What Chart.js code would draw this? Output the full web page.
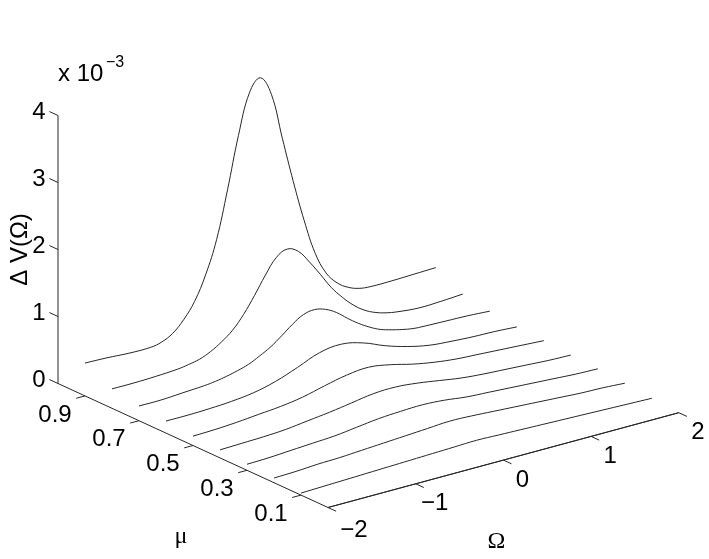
<!DOCTYPE html>
<html><head><meta charset="utf-8">
<style>html,body{margin:0;padding:0;background:#fff}canvas{display:block}</style>
<script src="https://cdn.jsdelivr.net/npm/chart.js@4"></script></head>
<body><canvas id="c" width="709" height="559"></canvas>
<script>
const omega=[-2,-1.75,-1.5,-1.25,-1,-0.75,-0.5,-0.25,0,0.25,0.5,0.75,1,1.25,1.5,1.75,2];
const omegaFine=[-2,-1.75,-1.5,-1.25,-1.125,-1,-0.875,-0.75,-0.625,-0.5,-0.375,-0.25,-0.125,0,0.125,0.25,0.375,0.5,0.625,0.75,0.875,1,1.125,1.25,1.5,1.75,2];
const muLevels=[0.9,0.8,0.7,0.6,0.5,0.4,0.3,0.2,0.1,0];
const v09=[.49,.48,.46,.46,.495,.58,.74,.97,1.32,1.80,2.50,3.27,3.86,4.04,3.75,3.05,2.36,1.73,1.20,.86,.67,.56,.50,.48,.48,.49,.50];
const v08=[.29,.29,.30,.32,.345,.38,.45,.55,.68,.87,1.11,1.37,1.59,1.67,1.59,1.39,1.16,.92,.73,.57,.45,.37,.32,.29,.26,.27,.29];
const v07=[.22,.22,.24,.26,.28,.31,.35,.40,.48,.57,.69,.82,.92,.95,.91,.82,.69,.57,.47,.39,.34,.30,.27,.26,.25,.24,.22];
const v06=[.18,.18,.19,.21,.25,.33,.45,.58,.62,.55,.42,.32,.25,.22,.20,.19,.17];
const v05=[.14,.15,.17,.20,.23,.28,.36,.43,.46,.41,.33,.27,.23,.21,.19,.17,.15];
const v04=[.12,.13,.14,.16,.20,.24,.29,.34,.35,.32,.27,.22,.19,.17,.15,.13,.12];
const v03=[.09,.10,.12,.14,.16,.20,.24,.26,.27,.25,.21,.19,.17,.15,.13,.11,.10];
const v02=[.07,.08,.10,.11,.13,.15,.17,.19,.21,.20,.18,.16,.14,.12,.10,.09,.07];
const v01=[.03,.04,.05,.06,.07,.08,.09,.10,.11,.10,.09,.08,.07,.06,.05,.04,.03];
const v00=[0,0,0,0,0,0,0,0,0,0,0,0,0,0,0,0,0];
const curves=[v09,v08,v07,v06,v05,v04,v03,v02,v01,v00];
const omegaTicks=[-2,-1,0,1,2];
const muTicks=[0.9,0.7,0.5,0.3,0.1];
const vTicks=[0,1,2,3,4];
const omegaTickLabels=['−2','−1','0','1','2'];
const muTickLabels=['0.9','0.7','0.5','0.3','0.1'];
const vTickLabels=['0','1','2','3','4'];

// Oblique view of (Ω, μ, V) on to the flat plotting plane
function project(o,m,v){
  return {x:328+87.7*(o+2)-270*m, y:507.5-23.7*(o+2)-124*m-67*v};
}
const ink='#262626';
function lineSet(points,w){
  return {data:points,showLine:true,pointRadius:0,borderColor:ink,borderWidth:w||1,fill:false,clip:false};
}
const datasets=[];
curves.forEach((vals,i)=>{
  const grid=vals.length===omegaFine.length?omegaFine:omega;
  const ds=lineSet(grid.map((o,k)=>project(o,muLevels[i],vals[k])));
  ds.tension=0.4;
  datasets.push(ds);
});
datasets.push(lineSet([project(-2,1,0),project(-2,1,4)]));
datasets.push(lineSet([project(-2,0,0),project(-2,1,0)]));
datasets.push(lineSet([project(-2,0,0),project(2,0,0)]));
vTicks.forEach(v=>datasets.push(lineSet([project(-2,1,v),project(-2,1.032,v)])));
muTicks.forEach(m=>datasets.push(lineSet([project(-2,m,0),project(-2.1,m,0)])));
omegaTicks.forEach(o=>datasets.push(lineSet([project(o,0,0),project(o,-0.03,0)])));

const textPlugin={id:'axisText',afterDatasetsDraw(chart){
  const {ctx,scales:{x,y}}=chart;
  const px=p=>({x:x.getPixelForValue(p.x),y:y.getPixelForValue(p.y)});
  ctx.save();
  ctx.fillStyle='#000';ctx.textBaseline='middle';
  const sans='24px "Liberation Sans"';
  function put(str,p,dx,dy,font,align){
    const q=px(p);ctx.font=font||sans;ctx.textAlign=align||'center';ctx.fillText(str,q.x+dx,q.y+dy);
  }
  vTicks.forEach((v,i)=>put(vTickLabels[i],project(-2,1,v),-19,-3,sans));
  muTicks.forEach((m,i)=>put(muTickLabels[i],project(-2,m,0),-30,19,sans));
  omegaTicks.forEach((o,i)=>put(omegaTickLabels[i],project(o,0,0),i==0?26:19,i==0?23:20,sans));
  put('x 10',project(-2,1,4),0,-41,sans,'left');
  put('−3',project(-2,1,4),48,-53,'16px "Liberation Sans"','left');
  const oa=px(project(0,0,0));ctx.font='24px "Liberation Serif"';ctx.textAlign='center';ctx.fillText('Ω',oa.x-7,oa.y+82);
  const ma=px(project(-2,0.5,0));ctx.fillText('μ',ma.x-12,ma.y+91);
  const c=px(project(-2,1,2.0));
  ctx.save();ctx.translate(c.x-38,c.y+0);ctx.rotate(-Math.PI/2);
  ctx.font=sans;ctx.textAlign='center';ctx.fillText('Δ V(Ω)',0,0);ctx.restore();
  ctx.restore();
}};
new Chart(document.getElementById('c'),{
  type:'scatter',
  data:{datasets},
  options:{responsive:false,animation:false,
    layout:{padding:0},
    plugins:{legend:{display:false},tooltip:{enabled:false},title:{display:false}},
    elements:{line:{borderCapStyle:'butt'}},
    scales:{
      x:{type:'linear',min:0,max:709,display:false},
      y:{type:'linear',min:0,max:559,reverse:true,display:false}
    }},
  plugins:[textPlugin]
});
</script></body></html>
